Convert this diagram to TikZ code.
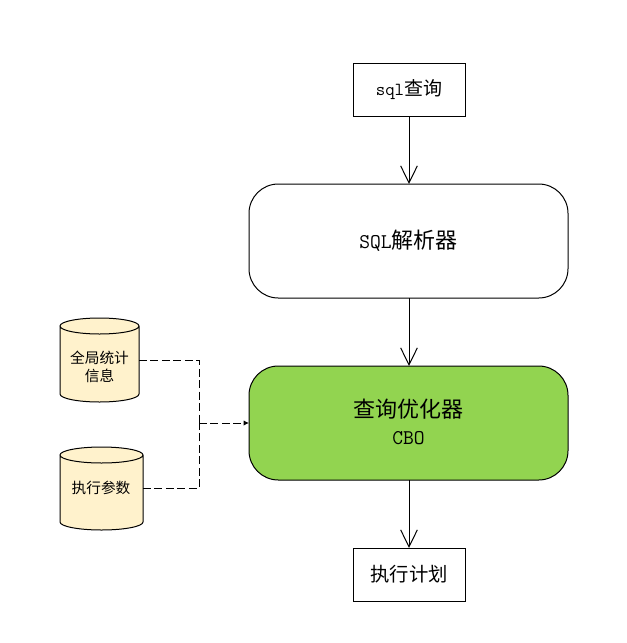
\documentclass[tikz,border=0pt]{standalone}
\usepackage{fontspec}
\newfontfamily\cjk{Noto Sans CJK SC}
\usetikzlibrary{arrows.meta,calc}
\newcommand{\bigtxt}[2]{{\fontsize{#2}{#2}\cjk #1}}
\newcommand{\lat}[2]{{\fontsize{#2}{#2}\ttfamily #1}}
% #1 name of a rectangular node that spans the drum
\newcommand{\drum}[1]{%
  \path[dbshape] (#1.north west) ++(0,8)
     -- ($(#1.south west)+(0,-8)$)
     arc[start angle=180,end angle=360,x radius=0.5*\drumw,y radius=6pt]
     -- ($(#1.north east)+(0,8)$)
     arc[start angle=0,end angle=360,x radius=0.5*\drumw,y radius=6pt]
     arc[start angle=0,end angle=-180,x radius=0.5*\drumw,y radius=6pt];}
\tikzset{
  x=0.75pt,y=-0.75pt,
  every node/.style={inner sep=0pt,outer sep=0pt,align=center,text=black},
  plainbox/.style={draw=black,line width=0.75pt,fill=white,minimum width=84pt,minimum height=39.75pt},
  roundbox/.style={draw=black,line width=0.75pt,rounded corners=22pt,minimum width=239.25pt,minimum height=85.5pt},
  dbshape/.style={draw=black,line width=0.75pt,fill=dbfill},
  flow/.style={draw=black,line width=0.75pt,-{Straight Barb[length=12.75pt,width=12.5pt,line width=0.75pt]}},
  link/.style={draw=black,line width=0.75pt,dash pattern=on 6pt off 2.6pt},
}
\definecolor{dbfill}{HTML}{FFF2CC}
\definecolor{optfill}{HTML}{92D450}
\newlength{\drumw}
\begin{document}
\begin{tikzpicture}
\useasboundingbox (0,0) rectangle (626,643);
\fill[white] (0,0) rectangle (626,643);
\node[plainbox] (q) at (409,89.5) {\lat{sql}{13.8pt}\bigtxt{查询}{14.25pt}};
\node[roundbox,fill=white] (p) at (408.5,241) {\lat{SQL}{15.7pt}\bigtxt{解析器}{16.5pt}};
\node[roundbox,fill=optfill] (o) at (408.5,423) {\bigtxt{查询优化器}{16.5pt}\\[8.5pt]\lat{CBO}{15.7pt}\rule[-2pt]{0pt}{2pt}};
\node[plainbox] (e) at (409,574.5) {\bigtxt{执行计划}{14.5pt}};
\node[minimum width=59.25pt,minimum height=63pt] (s) at (99.5,360) {};
\node[minimum width=62.25pt,minimum height=62.25pt] (r) at (101.5,488.5) {};
\setlength{\drumw}{59.25pt}\drum{s}
\setlength{\drumw}{62.25pt}\drum{r}
\node (st) at (99.5,367) {\bigtxt{全局统计}{11pt}\\[1pt]\bigtxt{信息}{11pt}};
\node (rt) at (101,488) {\bigtxt{执行参数}{11pt}};
\coordinate (j) at (199,423);
\draw[flow] (q.south) -- (q.south|-p.north);
\draw[flow] (q.south|-p.south) -- (q.south|-o.north);
\draw[flow] (q.south|-o.south) -- (e.north);
\draw[link] (s.east) -| (j);
\draw[link] (r.east) -| (j);
\draw[link,-{Latex[length=4pt,width=4pt]}] (j) -- (o.west);
\end{tikzpicture}
\end{document}
